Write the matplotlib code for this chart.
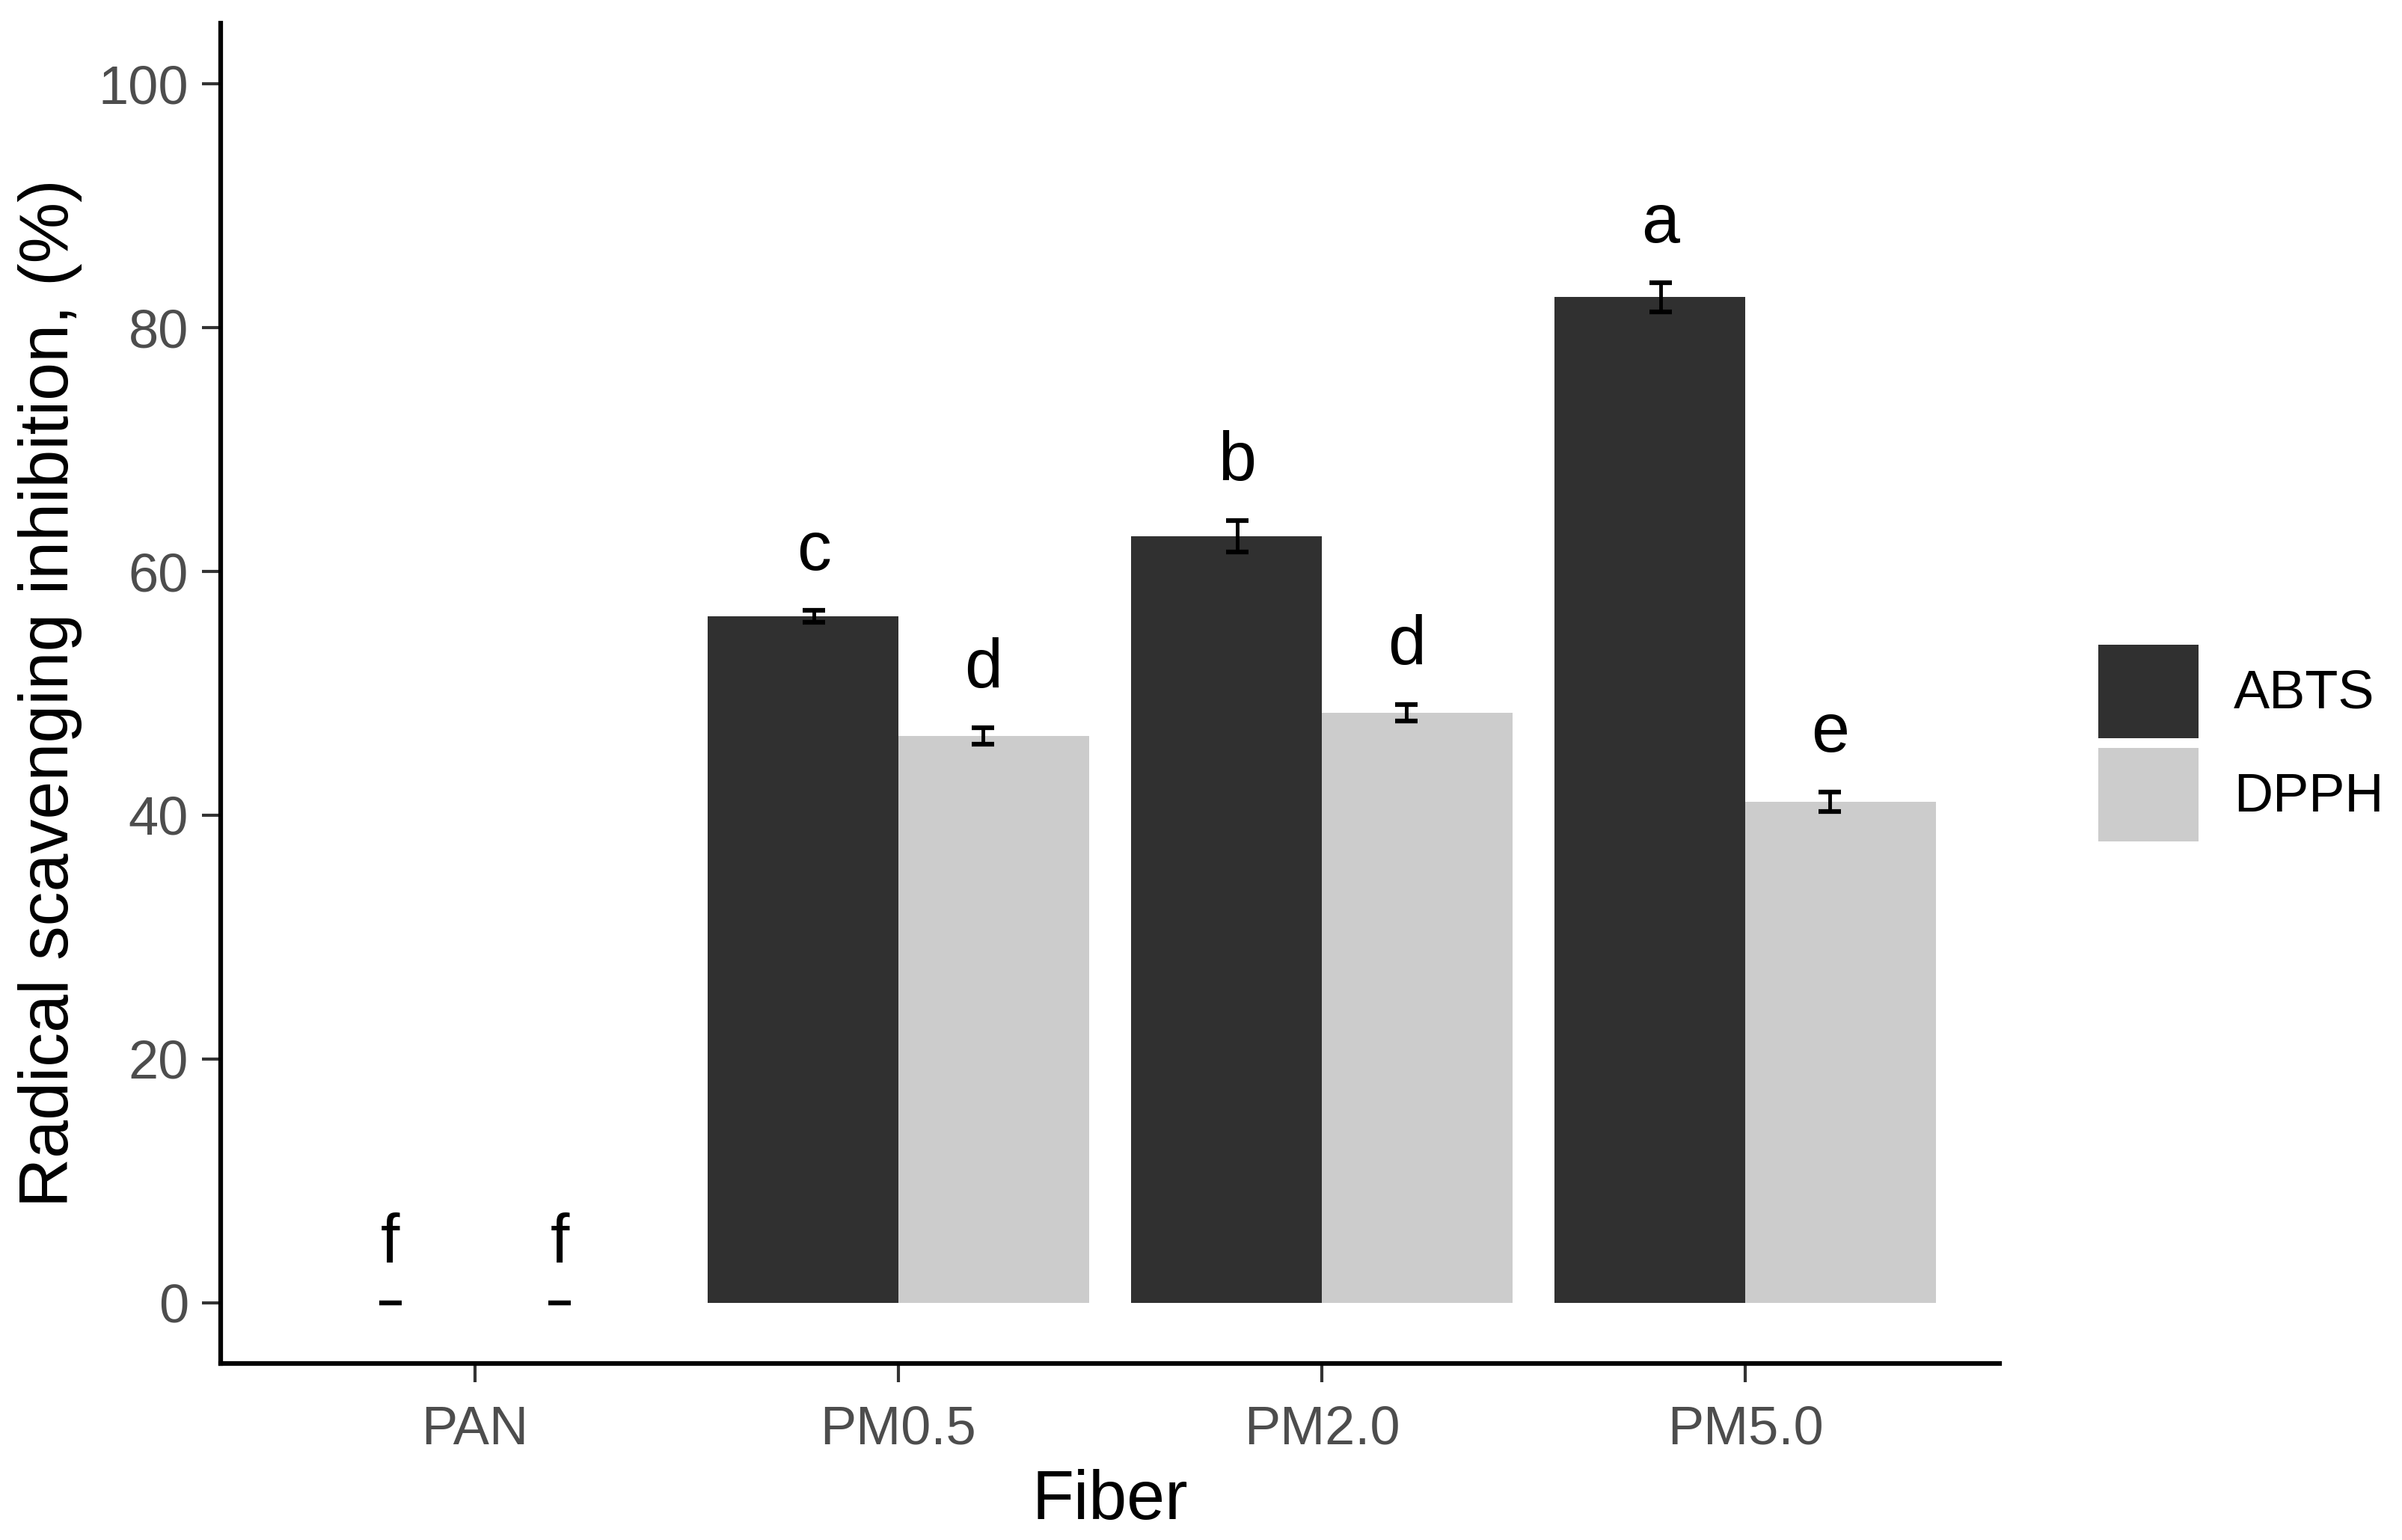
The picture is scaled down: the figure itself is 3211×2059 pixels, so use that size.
import numpy as np
import matplotlib.pyplot as plt
from matplotlib.patches import Patch

plt.rcParams['font.family'] = ['Liberation Sans', 'DejaVu Sans']

fibers = ['PAN', 'PM0.5', 'PM2.0', 'PM5.0']
abts_mean = [0, 56.3, 62.9, 82.5]
abts_sd = [0, 0.5, 1.3, 1.2]
dpph_mean = [0, 46.5, 48.4, 41.1]
dpph_sd = [0, 0.7, 0.7, 0.8]
abts_letters = ['f', 'c', 'b', 'a']
dpph_letters = ['f', 'd', 'd', 'e']

abts_color = '#303030'
dpph_color = '#cccccc'


def main():
    fig = plt.figure(figsize=(32.11, 20.59), dpi=100)
    ax = fig.add_axes([0.0919, 0.1146, 0.7405, 0.8704])

    x = np.arange(1, len(fibers) + 1)
    bw = 0.45
    ax.bar(x - bw / 2, abts_mean, width=bw, color=abts_color, linewidth=0)
    ax.bar(x + bw / 2, dpph_mean, width=bw, color=dpph_color, linewidth=0)

    # error bars are dodged a bit narrower than the bars
    ax.errorbar(x - 0.2, abts_mean, yerr=abts_sd, fmt='none', ecolor='black',
                elinewidth=3.5, capsize=11, capthick=4.5)
    ax.errorbar(x + 0.2, dpph_mean, yerr=dpph_sd, fmt='none', ecolor='black',
                elinewidth=3.5, capsize=11, capthick=4.5)

    for i in range(len(fibers)):
        ax.text(x[i] - 0.2, abts_mean[i] + abts_sd[i] + 3.3, abts_letters[i],
                ha='center', va='baseline', fontsize=66)
        ax.text(x[i] + 0.2, dpph_mean[i] + dpph_sd[i] + 3.3, dpph_letters[i],
                ha='center', va='baseline', fontsize=66)

    ax.set_xlim(0.4, 4.6)
    ax.set_ylim(-5, 105)
    ax.set_xticks(x)
    ax.set_xticklabels(fibers)
    ax.set_yticks(np.arange(0, 101, 20))

    for s in ['top', 'right']:
        ax.spines[s].set_visible(False)
    for s in ['left', 'bottom']:
        ax.spines[s].set_linewidth(4.5)
        ax.spines[s].set_color('black')

    ax.tick_params(axis='both', length=18, width=3, color='#333333',
                   labelcolor='#4d4d4d', labelsize=52)
    ax.tick_params(axis='y', pad=13)
    ax.tick_params(axis='x', pad=22)

    ax.set_xlabel('Fiber', fontsize=66)
    ax.set_ylabel('Radical scavenging inhibition, (%)', fontsize=66)
    ax.xaxis.set_label_coords(0.5, -0.0787)
    ax.yaxis.set_label_coords(-0.0778, 0.5)

    handles = [Patch(facecolor=abts_color, edgecolor='none'),
               Patch(facecolor=dpph_color, edgecolor='none')]
    ax.legend(handles, ['ABTS', 'DPPH'], loc='center left',
              bbox_to_anchor=(0.8736, 0.5175), bbox_transform=fig.transFigure,
              frameon=False, fontsize=52, handlelength=1.85, handleheight=2.29,
              labelspacing=0.18, handletextpad=0.65, borderpad=0, borderaxespad=0)

    fig.savefig('out.png', dpi=100, facecolor='white')


if __name__ == "__main__":
    main()
